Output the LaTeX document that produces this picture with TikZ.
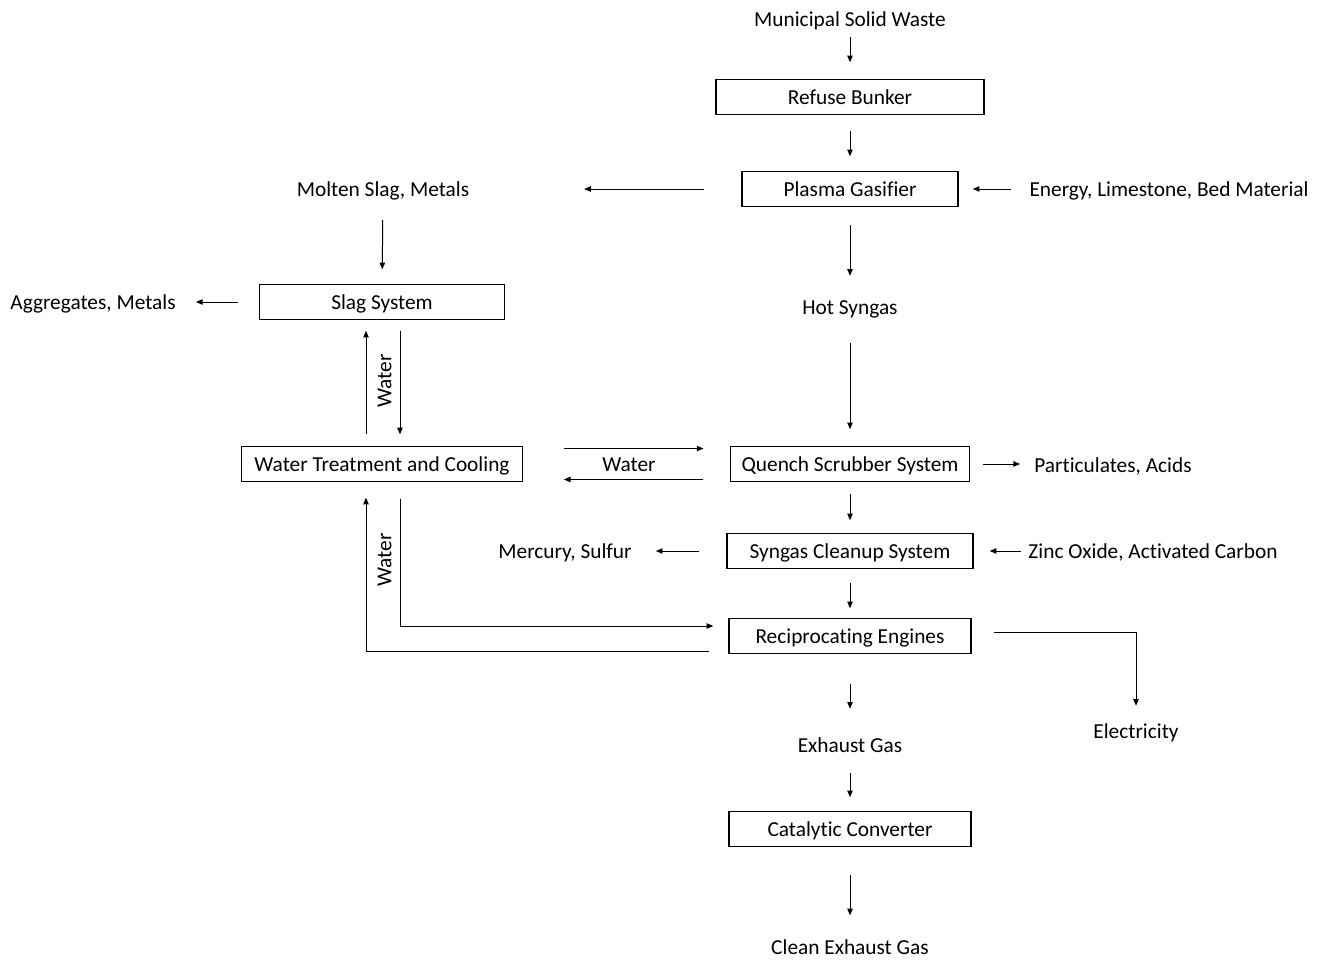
\documentclass[tikz,border=0pt]{standalone}
\usepackage{amsmath}
\usepackage{fontspec}
\setmainfont[Ligatures={NoCommon}]{Carlito}
\usepackage{tikz}
\usetikzlibrary{arrows.meta}

\begin{document}
\begin{tikzpicture}[x=0.75pt,y=0.75pt,yscale=-1,xscale=1,
  font=\fontsize{16}{19}\selectfont,
  txt/.style={inner sep=0pt, text height=12.5pt, text depth=1.5pt},
  blk/.style={draw, line width=1pt, inner sep=0pt, minimum height=26.25pt, text height=12.5pt, text depth=1.5pt},
  flow/.style={line width=0.75pt, -{Triangle[length=5pt,width=4pt]}},
  gap/.style 2 args={shorten <=#1, shorten >=#2}]
\useasboundingbox (0,0) rectangle (1324,960);

% Text Node
\node [txt] (msw) at (850,19) {Municipal Solid Waste};
% Shape: Rectangle
\node [blk, minimum width=201pt] (bunker) at (850,97) {Refuse Bunker};
% Shape: Rectangle
\node [blk, minimum width=162pt] (gasifier) at (850,189) {Plasma Gasifier};
% Text Node
\node [txt] (molten) at (383,189) {Molten Slag, Metals};
% Text Node
\node [txt] (energy) at (1169,189) {Energy,\ Limestone,\ Bed Material};
% Text Node
\node [txt] (hot) at (850,307) {Hot Syngas};
% Shape: Rectangle
\node [blk, minimum width=184pt] (slag) at (382,302) {Slag System};
% Text Node
\node [txt] (aggr) at (93,302) {Aggregates, Metals};
% Shape: Rectangle
\node [blk, minimum width=211pt] (wtc) at (382,464) {Water Treatment and Cooling};
% Shape: Rectangle
\node [blk, minimum width=179pt] (quench) at (850,464) {Quench Scrubber System};
% Text Node
\node [txt] (partic) at (1113,465) {Particulates, Acids};
% Shape: Rectangle
\node [blk, minimum width=184.5pt] (cleanup) at (850,551) {Syngas Cleanup System};
% Text Node
\node [txt] (mercury) at (565,551) {Mercury, Sulfur};
% Text Node
\node [txt] (zinc) at (1153,551) {Zinc Oxide, Activated Carbon};
% Shape: Rectangle
\node [blk, minimum width=181.5pt] (engines) at (850,636) {Reciprocating Engines};
% Text Node
\node [txt] (elec) at (1136,731) {Electricity};
% Text Node
\node [txt] (exhaust) at (850,745) {Exhaust Gas};
% Shape: Rectangle
\node [blk, minimum width=181.5pt] (catconv) at (850,829) {Catalytic Converter};
% Text Node
\node [txt] (clean) at (850,947) {Clean Exhaust Gas};
% Text Node
\node [txt, rotate=90] (water1) at (384,381) {Water};
% Text Node
\node [txt] (water2) at (629,464) {Water};
% Text Node
\node [txt, rotate=90] (water3) at (384,560) {Water};

%Straight Lines (main column)
\draw [flow, gap={6.5pt}{12.4pt}] (msw) -- (bunker);
\draw [flow, gap={11.6pt}{10.9pt}] (bunker) -- (gasifier);
\draw [flow, gap={13.1pt}{16.2pt}] (gasifier) -- (hot);
\draw [flow, gap={20pt}{12.4pt}] (hot) -- (quench);
\draw [flow, gap={8.6pt}{9.4pt}] (quench) -- (cleanup);
\draw [flow, gap={10.1pt}{7.1pt}] (cleanup) -- (engines);
\draw [flow, gap={22.1pt}{20pt}] (engines) -- (exhaust);
\draw [flow, gap={14pt}{10.1pt}] (exhaust) -- (catconv);
\draw [flow, gap={20.6pt}{16.5pt}] (catconv) -- (clean);

%Straight Lines (side streams)
\draw [flow, gap={27.75pt}{86pt}] (gasifier) -- (molten);
\draw [flow, gap={13.5pt}{10.5pt}] (energy) -- (gasifier);
\draw [flow, gap={16.2pt}{10.9pt}] (molten) -- (slag);
\draw [flow, gap={15.4pt}{15pt}] (slag) -- (aggr);
\draw [flow, gap={10.1pt}{10.5pt}] (quench.east) -- (quench.east -| partic.west);
\draw [flow, gap={20.3pt}{18pt}] (cleanup) -- (mercury);
\draw [flow, gap={5.3pt}{12pt}] (zinc) -- (cleanup);

%Straight Lines (water loops)
\draw [flow, gap={8.6pt}{7.9pt}] ([xshift=-12pt]wtc.north) -- ([xshift=-12pt]slag.south);
\draw [flow, gap={7.9pt}{8.6pt}] ([xshift=13.5pt]slag.south) -- ([xshift=13.5pt]wtc.north);
\draw [flow, gap={30.4pt}{19.9pt}] ([yshift=-11.6pt]wtc.east) -- ([yshift=-11.6pt]quench.west);
\draw [flow, gap={19.9pt}{30.4pt}] ([yshift=11.6pt]quench.west) -- ([yshift=11.6pt]wtc.east);
\draw [flow, gap={12.4pt}{11.25pt}] ([xshift=13.5pt]wtc.south) |- ([yshift=-7.5pt]engines.west);
\draw [flow, gap={14.25pt}{11.6pt}] ([yshift=11.25pt]engines.west) -| ([xshift=-12pt]wtc.south);
\draw [flow, gap={16.5pt}{11.7pt}] ([yshift=-3pt]engines.east) -| (elec.north);
\end{tikzpicture}
\end{document}
